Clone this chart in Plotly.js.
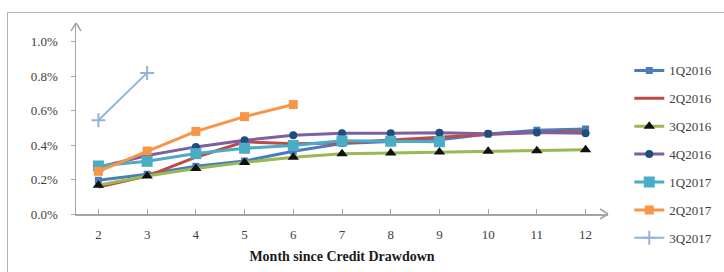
<!DOCTYPE html>
<html>
<head>
<meta charset="utf-8">
<script src="https://cdn.plot.ly/plotly-3.0.1.min.js"></script>
<style>
  html, body { margin: 0; padding: 0; background: #fff; }
  #frame { position: absolute; left: 7px; top: 12px; width: 800px; height: 400px; border: 1px solid #b4b4b4; }
  #chart { position: absolute; left: 0; top: 0; width: 724px; height: 272px; }
</style>
</head>
<body>
<div id="frame"></div>
<div id="chart"></div>
<script>
// Data (default rates, as fractions)
const months = [2, 3, 4, 5, 6, 7, 8, 9, 10, 11, 12];
const seriesNames = ["1Q2016", "2Q2016", "3Q2016", "4Q2016", "1Q2017", "2Q2017", "3Q2017"];
const q1_2016 = [0.00196, 0.00231, 0.00277, 0.00308, 0.00365, 0.00410, 0.00422, 0.00432, 0.00465, 0.00487, 0.00494];
const q2_2016 = [0.00157, 0.00220, 0.00330, 0.00420, 0.00408, 0.00412, 0.00430, 0.00448, 0.00462, 0.00474, 0.00480];
const q3_2016 = [0.00167, 0.00221, 0.00265, 0.00300, 0.00330, 0.00350, 0.00355, 0.00360, 0.00364, 0.00368, 0.00374];
const q4_2016 = [0.00272, 0.00340, 0.00390, 0.00428, 0.00458, 0.00470, 0.00470, 0.00472, 0.00467, 0.00473, 0.00470];
const q1_2017 = [0.00279, 0.00306, 0.00351, 0.00382, 0.00398, 0.00425, 0.00423, 0.00420];
const q2_2017 = [0.00248, 0.00366, 0.00480, 0.00566, 0.00636];
const q3_2017 = [0.00545, 0.00820];
const yTicks = [0, 0.002, 0.004, 0.006, 0.008, 0.010];

const serif = "'Liberation Serif', 'Times New Roman', serif";

function tr(name, ys, lineColor, marker, width) {
  const t = {
    type: 'scatter',
    mode: marker ? 'lines+markers' : 'lines',
    name: name,
    legendgroup: name,
    x: months.slice(0, ys.length),
    y: ys,
    line: { color: lineColor, width: width || 3 }
  };
  if (marker) t.marker = marker;
  return t;
}

const data = [
  tr(seriesNames[0], q1_2016, '#4A7EBB', { symbol: 'square', size: 7, color: '#4A7EBB' }),
  tr(seriesNames[1], q2_2016, '#BE4B48', null),
  tr(seriesNames[2], q3_2016, '#98B954', { symbol: 'triangle-up', size: 10, color: '#111111' }),
  tr(seriesNames[3], q4_2016, '#7D60A0', { symbol: 'circle', size: 8, color: '#1F4E7D' }),
  tr(seriesNames[4], q1_2017, '#4BACC6', { symbol: 'square', size: 11, color: '#4BACC6' }),
  tr(seriesNames[5], q2_2017, '#F79646', { symbol: 'square', size: 9, color: '#F79646' }),
  tr(seriesNames[6], q3_2017, '#95B3D7', { symbol: 'cross-thin-open', size: 10, color: '#95B3D7', line: { color: '#95B3D7', width: 2 } }, 2)
];

const axisColor = '#a6a6a6';
function seg(xa, ya, x0, y0, x1, y1) {
  return {
    type: 'line', xref: 'paper', yref: 'paper',
    xsizemode: 'pixel', ysizemode: 'pixel',
    xanchor: xa, yanchor: ya,
    x0: x0, y0: y0, x1: x1, y1: y1,
    line: { color: axisColor, width: 1.5 }
  };
}

const layout = {
  width: 724, height: 272,
  margin: { l: 76, r: 116, t: 23, b: 58, autoexpand: false },
  paper_bgcolor: 'rgba(0,0,0,0)',
  plot_bgcolor: 'rgba(0,0,0,0)',
  font: { family: serif, size: 13, color: '#404040' },
  showlegend: true,
  legend: {
    x: 1.04, xanchor: 'left', y: 0.83, yanchor: 'top',
    tracegroupgap: 8,
    maxheight: 400,
    font: { family: serif, size: 13, color: '#404040' },
    bgcolor: 'rgba(0,0,0,0)'
  },
  xaxis: {
    range: [1.54, 12.46],
    tickmode: 'array', tickvals: months, ticktext: months.map(String),
    showgrid: false, zeroline: false,
    showline: true, linecolor: axisColor, linewidth: 1.5,
    ticks: 'inside', ticklen: 5, tickcolor: axisColor, tickwidth: 1,
    ticklabelstandoff: 8,
    tickfont: { family: serif, size: 13, color: '#404040' },
    title: { text: '<b>Month since Credit Drawdown</b>', font: { family: serif, size: 14, color: '#1a1a1a' }, standoff: 10 }
  },
  yaxis: {
    range: [0, 0.0111],
    tickmode: 'array', tickvals: yTicks,
    tickformat: '.1%',
    showgrid: false, zeroline: false,
    showline: true, linecolor: axisColor, linewidth: 1.5,
    ticks: 'outside', ticklen: 4, tickcolor: axisColor, tickwidth: 1,
    ticklabelstandoff: 10,
    tickfont: { family: serif, size: 13, color: '#404040' }
  },
  shapes: [
    seg(0, 1, -5, -8, 0, 0),
    seg(0, 1, 5, -8, 0, 0),
    seg(1, 0, -8, 5, 0, 0),
    seg(1, 0, -8, -5, 0, 0)
  ]
};

Plotly.newPlot('chart', data, layout, { staticPlot: true, displayModeBar: false });
</script>
</body>
</html>
